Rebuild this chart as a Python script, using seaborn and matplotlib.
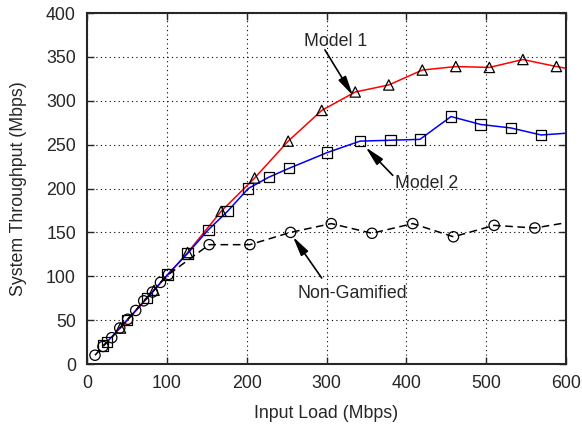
import pandas as pd
import seaborn as sns
import matplotlib
matplotlib.use('Agg')
import matplotlib.pyplot as plt

# Model 1 (triangles, red)
m1_load = [38, 42, 84, 126, 168, 210, 252, 294, 336, 378, 420, 462, 504, 546, 588, 600]
m1_tput = [38, 41, 84, 127, 174, 212, 254, 289, 310, 318, 335, 339, 338, 347, 339, 337]
m1_marked = [False] + [True] * 14 + [False]

# Model 2 (squares, blue)
m2_load = [20, 25, 50, 75, 101, 126, 152, 176, 202, 228, 253, 301, 342, 380, 417, 456, 493, 531, 569, 600]
m2_tput = [21, 25, 50, 75, 102, 126, 153, 174, 200, 213, 223, 241, 254, 255, 256, 282, 273, 269, 261, 263]
m2_marked = [True] * 19 + [False]

# Non-Gamified (circles, dashed black)
ng_load = [10, 20, 31, 41, 51, 61, 71, 82, 92, 102, 153, 204, 255, 306, 357, 408, 459, 510, 561, 600]
ng_tput = [10, 20, 30, 41, 51, 61, 72, 82, 93, 102, 136, 136, 150, 160, 149, 160, 145, 158, 155, 161]
ng_marked = [True] * 19 + [False]

x_ticks = [0, 100, 200, 300, 400, 500, 600]
y_ticks = [0, 50, 100, 150, 200, 250, 300, 350, 400]

sns.set_style('ticks')
plt.rcParams['font.family'] = ['Liberation Sans', 'DejaVu Sans']
fs = 12.8

fig = plt.figure(figsize=(5.82, 4.24), dpi=100)
ax = fig.add_axes([0.1495, 0.1415, 0.823, 0.8278])

series = [
    (m1_load, m1_tput, m1_marked, 'red', '-', '^'),
    (m2_load, m2_tput, m2_marked, 'blue', '-', 's'),
    (ng_load, ng_tput, ng_marked, 'black', (0, (5, 3)), 'o'),
]
for load, tput, marked, col, ls, mk in series:
    df = pd.DataFrame({'load': load, 'tput': tput, 'marked': marked})
    sns.lineplot(data=df, x='load', y='tput', ax=ax, color=col, linestyle=ls,
                 linewidth=1.1, estimator=None, sort=True)
    pts = df[df['marked']]
    sns.scatterplot(data=pts, x='load', y='tput', ax=ax, marker=mk, s=55,
                    facecolor='none', edgecolor='black', linewidth=0.9, zorder=3)

ax.set_xlim(0, 600)
ax.set_ylim(0, 400)
ax.set_xticks(x_ticks)
ax.set_yticks(y_ticks)
ax.grid(True, linestyle=(0, (1, 3)), color='black', linewidth=0.8)
ax.tick_params(direction='in', top=True, right=True, length=5, width=1,
               labelsize=fs, pad=8)
for s in ax.spines.values():
    s.set_linewidth(1.5)
    s.set_visible(True)
ax.set_xlabel('Input Load (Mbps)', fontsize=fs, labelpad=9)
ax.set_ylabel('System Throughput (Mbps)', fontsize=fs, labelpad=14)

arrow = dict(arrowstyle='-|>,head_length=0.9,head_width=0.2', color='black',
             lw=1.2, mutation_scale=13, shrinkA=0, shrinkB=0)
ax.annotate('', xy=(333, 306), xytext=(298, 358), arrowprops=arrow)
ax.annotate('', xy=(349, 247), xytext=(383, 215), arrowprops=arrow)
ax.annotate('', xy=(258, 145), xytext=(294, 98), arrowprops=arrow)
ax.text(311, 368, 'Model 1', fontsize=fs, ha='center', va='center')
ax.text(426, 206, 'Model 2', fontsize=fs, ha='center', va='center')
ax.text(332, 80, 'Non-Gamified', fontsize=fs, ha='center', va='center')

fig.savefig('out.png', dpi=100)
